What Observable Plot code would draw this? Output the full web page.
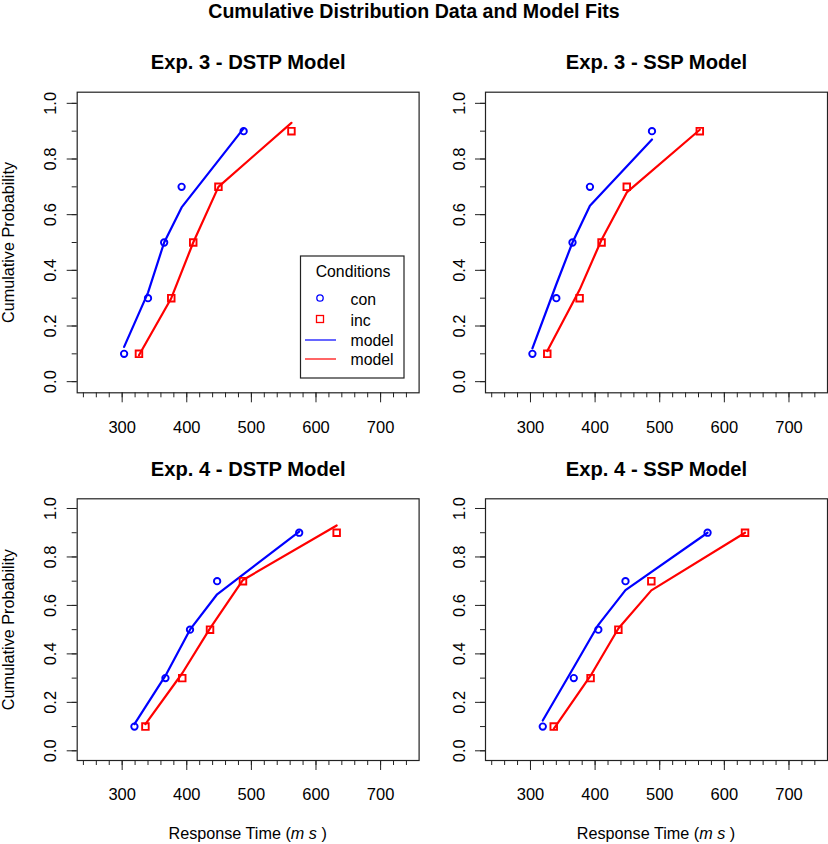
<!DOCTYPE html>
<html><head><meta charset="utf-8">
<script src="https://cdn.jsdelivr.net/npm/d3@7"></script>
<script src="https://cdn.jsdelivr.net/npm/@observablehq/plot@0.6"></script>
<style>
body{margin:0;background:#fff;}
#wrap{position:relative;width:828px;height:844px;font-family:"Liberation Sans",Arial,Helvetica,sans-serif;color:#000;background:#fff;overflow:hidden;}
#title{position:absolute;left:0;top:0;width:828px;text-align:center;font-weight:bold;font-size:19.6px;line-height:23px;}
.panel{position:absolute;}
</style></head><body>
<div id="wrap"><div id="title">Cumulative Distribution Data and Model Fits</div></div>
<script>
// ---- data ----
const quantiles = [0.1, 0.3, 0.5, 0.7, 0.9];
const exp3Con = [303, 340, 365, 392, 488];
const exp3Inc = [326, 376, 410, 449, 562];
const exp4Con = [319, 367, 405, 447, 574];
const exp4Inc = [336, 393, 436, 487, 632];
const exp3DstpConModel = [0.125, 0.32, 0.50, 0.626, 0.91];
const exp3DstpIncModel = [0.095, 0.30, 0.50, 0.70, 0.93];
const exp3SspConModel = [0.12, 0.35, 0.50, 0.632, 0.87];
const exp3SspIncModel = [0.11, 0.33, 0.51, 0.68, 0.905];
const exp4DstpConModel = [0.11, 0.31, 0.50, 0.646, 0.905];
const exp4DstpIncModel = [0.11, 0.32, 0.505, 0.705, 0.93];
const exp4SspConModel = [0.125, 0.345, 0.52, 0.663, 0.90];
const exp4SspIncModel = [0.09, 0.31, 0.505, 0.662, 0.90];
const xMajorTicks = [300, 400, 500, 600, 700];
const xMinorTicks = d3.range(240, 741, 20);
const yMajorTicks = [0, 0.2, 0.4, 0.6, 0.8, 1.0];
const yMinorTicks = d3.range(0, 11).map(i => i / 10);
const legendLabels = ["con", "inc", "model", "model"];

const BLUE = "#0000ff", RED = "#ff0000";
const FONT = '"Liberation Sans", Arial, Helvetica, sans-serif';
const TICKFS = 16.5, LABFS = 16.2, TITLEFS = 20.2;
const wrap = document.getElementById("wrap");

function panel(o) {
  const conData = o.con.map((x, i) => ({x, p: quantiles[i], m: o.conModel[i]}));
  const incData = o.inc.map((x, i) => ({x, p: quantiles[i], m: o.incModel[i]}));
  const marks = [
    Plot.frame({stroke: "#222", strokeWidth: 1.2}),
    Plot.axisX(xMinorTicks, {tickSize: 5, fill: "none", stroke: "#222", label: null}),
    Plot.axisX(xMajorTicks, {tickSize: 10, tickPadding: 18, fontSize: TICKFS, stroke: "#222", label: null}),
    Plot.axisY(yMinorTicks, {tickSize: 5, fill: "none", stroke: "#222", label: null}),
    Plot.axisY(yMajorTicks, {tickSize: 10, fill: "none", stroke: "#222", label: null}),
    Plot.text(yMajorTicks, {y: d => d, text: d => d.toFixed(1), frameAnchor: "left", textAnchor: "middle", lineAnchor: "middle", dx: -26, rotate: -90, fontSize: TICKFS}),
    Plot.text([o.title], {text: d => d, frameAnchor: "top", textAnchor: "middle", lineAnchor: "middle", dy: o.titleDy, fontWeight: "bold", fontSize: TITLEFS}),
    Plot.line(conData, {x: "x", y: "m", stroke: BLUE, strokeWidth: 2.2}),
    Plot.line(incData, {x: "x", y: "m", stroke: RED, strokeWidth: 2.2}),
    Plot.dot(conData, {x: "x", y: "p", r: 3.2, stroke: BLUE, strokeWidth: 1.9, symbol: "circle"}),
    Plot.dot(incData, {x: "x", y: "p", r: 3.7, stroke: RED, strokeWidth: 1.9, symbol: "square"})
  ];
  if (o.ylab) marks.push(Plot.text(["Cumulative Probability"], {text: d => d, frameAnchor: "left", textAnchor: "middle", lineAnchor: "middle", dx: -68, rotate: -90, fontSize: LABFS}));
  const svg = Plot.plot({
    width: o.width, height: o.height,
    marginLeft: o.mL, marginRight: o.mR, marginTop: o.mT, marginBottom: o.mB,
    x: {domain: [230.4, 759.6], axis: null, label: null},
    y: {domain: [-0.04, 1.04], axis: null, label: null},
    style: {fontFamily: FONT, fontSize: TICKFS + "px", color: "#000", background: "transparent", overflow: "visible"},
    marks
  });
  const s = d3.select(svg);
  const fx0 = o.mL, fx1 = o.width - o.mR, fy1 = o.height - o.mB;
  if (o.xlab) {
    const t = s.append("text")
      .attr("x", (fx0 + fx1) / 2).attr("y", fy1 + 73).attr("dy", "0.35em")
      .attr("text-anchor", "middle").attr("font-size", LABFS).attr("font-family", FONT).attr("fill", "#000");
    t.append("tspan").text("Response Time (");
    t.append("tspan").attr("font-style", "italic").text("m s");
    t.append("tspan").text(" )");
  }
  if (o.legend) {
    const g = s.append("g").attr("font-family", FONT).attr("font-size", 15.8).attr("text-anchor", "start").attr("fill", "#000");
    g.append("rect").attr("x", 300.5).attr("y", 216).attr("width", 103.5).attr("height", 122)
      .attr("fill", "white").attr("stroke", "#222").attr("stroke-width", 1.2);
    g.append("text").attr("x", 353).attr("y", 231.5).attr("dy", "0.35em").attr("text-anchor", "middle").text("Conditions");
    const ys = [259, 280, 300, 319];
    legendLabels.forEach((lab, i) => {
      g.append("text").attr("x", 350.5).attr("y", ys[i]).attr("dy", "0.35em").attr("text-anchor", "start").text(lab);
    });
    g.append("circle").attr("cx", 320).attr("cy", ys[0] - 1).attr("r", 3.2).attr("fill", "none").attr("stroke", BLUE).attr("stroke-width", 1.3);
    g.append("rect").attr("x", 316.5).attr("y", ys[1] - 4.5).attr("width", 7).attr("height", 7).attr("fill", "none").attr("stroke", RED).attr("stroke-width", 1.3);
    g.append("line").attr("x1", 305).attr("x2", 336).attr("y1", ys[2]).attr("y2", ys[2]).attr("stroke", BLUE).attr("stroke-width", 1.2);
    g.append("line").attr("x1", 305).attr("x2", 336).attr("y1", ys[3]).attr("y2", ys[3]).attr("stroke", RED).attr("stroke-width", 1.2);
  }
  const div = document.createElement("div");
  div.className = "panel";
  div.style.left = o.left + "px";
  div.style.top = o.top + "px";
  div.appendChild(svg);
  wrap.appendChild(div);
}

panel({title: "Exp. 3 - DSTP Model", con: exp3Con, inc: exp3Inc, conModel: exp3DstpConModel, incModel: exp3DstpIncModel,
  left: 0, top: 40, width: 430, height: 400, mL: 76.7, mR: 11.4, mT: 51.7, mB: 47.7, titleDy: -30, ylab: true, legend: true});
panel({title: "Exp. 3 - SSP Model", con: exp3Con, inc: exp3Inc, conModel: exp3SspConModel, incModel: exp3SspIncModel,
  left: 430, top: 40, width: 398, height: 400, mL: 55, mR: 1, mT: 51.7, mB: 47.7, titleDy: -30});
panel({title: "Exp. 4 - DSTP Model", con: exp4Con, inc: exp4Inc, conModel: exp4DstpConModel, incModel: exp4DstpIncModel,
  left: 0, top: 440, width: 430, height: 404, mL: 76.7, mR: 11.4, mT: 58.3, mB: 84, titleDy: -29, ylab: true, xlab: true});
panel({title: "Exp. 4 - SSP Model", con: exp4Con, inc: exp4Inc, conModel: exp4SspConModel, incModel: exp4SspIncModel,
  left: 430, top: 440, width: 398, height: 404, mL: 55, mR: 1, mT: 58.3, mB: 84, titleDy: -29, xlab: true});
</script>
</body></html>
